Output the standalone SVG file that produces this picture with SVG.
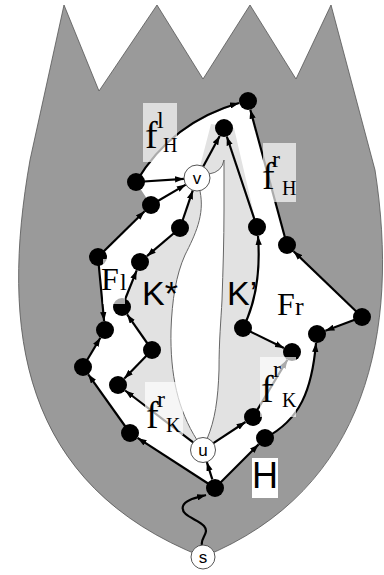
<svg xmlns="http://www.w3.org/2000/svg" width="384" height="575" viewBox="0 0 384 575">
<defs>
<marker id="ah" viewBox="0 0 10 7" markerUnits="userSpaceOnUse" markerWidth="9" markerHeight="6.5" refX="10" refY="3.5" orient="auto"><path d="M0,0 L10,3.5 L0,7 z" fill="#000"/></marker>
<style>
.e{fill:none;stroke:#000;stroke-width:2.2;marker-end:url(#ah)}
.n{fill:#000}
.w{fill:#fff;stroke:#555;stroke-width:1}
.lens{fill:none;stroke:#666;stroke-width:1}
.box{fill:#fff;fill-opacity:0.67}
.ser{font-family:"Liberation Serif","Times New Roman",serif;fill:#000}
.san{font-family:"Liberation Sans",Arial,sans-serif;fill:#000}
</style>
</defs>
<path id="outer" d="M64,5 L99,91 L157,5 L203,79 L250,5 L296,79 L331,5 L375,170 C400,330 368,490 203,557 C20,485 0,330 30,160 Z" fill="#9a9a9a" stroke="#555" stroke-width="0.8"/>
<path id="face" d="M136,182 Q172,122 248,101 L287,245 L362,317 L317,334 C312,390 300,420 265,438 L215,488 L130,433 L83,367 L105,330 L98,257 L151,205 Z" fill="#fff"/>
<path id="kregion" d="M197,178 L211,124 L234,128 L257,227 Q262,290 243,328 L292,352 L253,417 L203,450 L118,385 L152,350 L122,307 L140,262 L180,228 Z" fill="#e2e2e2"/>
<path id="lensfill" d="M200,191 C205,215 195,235 185,255 C176,275 172,300 171,330 C170,375 178,410 197,440 L207,439 C215,420 218,400 219,370 C219,340 221,320 222,300 C223,270 224,240 224,210 L224,160 Q222,172 209,174 Z" fill="#fff"/>
<g id="lenslines">
<path class="lens" d="M200,191 C205,215 195,235 185,255 C176,275 172,300 171,330 C170,375 178,410 197,440"/>
<path class="lens" d="M207,439 C215,420 218,400 219,370 C219,340 221,320 222,300 C223,270 224,240 224,210 L224,160 Q222,172 209,174"/>
</g>
<g id="connectors">
<path class="e" d="M136,182 Q172,122 239,103"/>
<path class="e" d="M136,182 L184,178.8"/>
<path class="e" d="M203.2,166.6 L219.7,135.9"/>
<path class="e" d="M151,205 L185.8,184.6"/>
<path class="e" d="M180,228 L192.8,190.3"/>
<path class="e" d="M180,228 L146.9,256.2"/>
<path class="e" d="M98,257 L144.6,211.3"/>
<path class="e" d="M98,257 L104.1,321"/>
<path class="e" d="M122,307 L136.7,270.4"/>
<path class="e" d="M152,350 L127.1,314.4"/>
<path class="e" d="M83,367 L100.4,337.7"/>
<path class="e" d="M152,350 L124.3,378.5"/>
<path class="e" d="M130,433 L88.2,374.3"/>
<path class="e" d="M215,488 L137.6,437.9"/>
<path class="e" d="M193.1,442.4 L125.1,390.5"/>
<path class="e" d="M212.3,479.4 L206.8,461.9"/>
<path class="e" d="M213.4,443.1 L245.5,422"/>
<path class="e" d="M215,488 L258.6,444.4"/>
<path class="e" d="M265,438 C300,420 312,390 316,343"/>
<path class="e" d="M362,317 L325.4,330.8"/>
<path class="e" d="M362,317 L293.5,251.2"/>
<path class="e" d="M287,245 L250.3,109.7"/>
<path class="e" d="M257,227 L226.8,136.5"/>
<path class="e" d="M243,328 Q262,290 258,236"/>
<path class="e" d="M243,328 L283.9,348"/>
<path class="e" d="M253,417 L287.4,359.7"/>
<path class="e" d="M202,545 C200,538 210,533 204,526 C198,519 180,516 183,506 C185,500 195,498 206,495"/>
</g>
<g id="nodes">
<circle id="A" class="n" cx="248" cy="101" r="9"/>
<circle id="B" class="n" cx="224" cy="128" r="9"/>
<circle id="C" class="n" cx="136" cy="182" r="9"/>
<circle id="D" class="n" cx="151" cy="205" r="9"/>
<circle id="E" class="n" cx="180" cy="228" r="9"/>
<circle id="F" class="n" cx="98" cy="257" r="9"/>
<circle id="G" class="n" cx="140" cy="262" r="9"/>
<circle id="H1" class="n" cx="122" cy="307" r="9"/>
<circle id="I" class="n" cx="105" cy="330" r="9"/>
<circle id="J" class="n" cx="152" cy="350" r="9"/>
<circle id="K" class="n" cx="83" cy="367" r="9"/>
<circle id="R" class="n" cx="118" cy="385" r="9"/>
<circle id="S" class="n" cx="130" cy="433" r="9"/>
<circle id="L" class="n" cx="257" cy="227" r="9"/>
<circle id="M" class="n" cx="287" cy="245" r="9"/>
<circle id="N" class="n" cx="362" cy="317" r="9"/>
<circle id="O" class="n" cx="243" cy="328" r="9"/>
<circle id="P" class="n" cx="317" cy="334" r="9"/>
<circle id="Q" class="n" cx="292" cy="352" r="9"/>
<circle id="T" class="n" cx="253" cy="417" r="9"/>
<circle id="U" class="n" cx="265" cy="438" r="9"/>
<circle id="W" class="n" cx="215" cy="488" r="9"/>
<g id="v"><circle class="w" cx="197" cy="178" r="13"/><text class="san" x="197" y="184" font-size="17" text-anchor="middle">v</text></g>
<g id="u"><circle class="w" cx="203" cy="450" r="12.5"/><text class="san" x="203" y="456" font-size="17" text-anchor="middle">u</text></g>
<g id="s"><circle class="w" cx="203" cy="557" r="12"/><text class="san" x="203" y="563" font-size="17" text-anchor="middle">s</text></g>
</g>
<g id="labels">
<rect class="box" x="143" y="103" width="34" height="59"/>
<rect class="box" x="263" y="143" width="33" height="59"/>
<rect class="box" x="145" y="382" width="38" height="53"/>
<rect class="box" x="260" y="357" width="36" height="60"/>
<rect class="box" x="103" y="259" width="22" height="45"/>
<rect x="252" y="458" width="26" height="40" fill="#fff"/>
<text class="ser" x="145" y="148" font-size="38">f</text>
<text class="ser" x="157" y="128" font-size="24">l</text>
<text class="ser" x="163" y="152" font-size="20">H</text>
<text class="ser" x="262" y="189" font-size="38">f</text>
<text class="ser" x="272" y="167" font-size="24">r</text>
<text class="ser" x="282" y="195" font-size="20">H</text>
<text class="ser" x="146" y="428" font-size="38">f</text>
<text class="ser" x="157" y="407" font-size="24">r</text>
<text class="ser" x="166" y="432" font-size="20">K</text>
<text class="ser" x="261" y="402" font-size="38">f</text>
<text class="ser" x="273" y="377" font-size="24">r</text>
<text class="ser" x="282" y="407" font-size="20">K</text>
<text class="ser" x="101" y="290" font-size="32">F</text>
<text class="ser" x="120" y="290" font-size="24">l</text>
<text class="ser" x="277" y="315" font-size="32">F</text>
<text class="ser" x="295" y="315" font-size="26">r</text>
<text class="san" x="142" y="305" font-size="34">K*</text>
<text class="san" x="227" y="305" font-size="34">K’</text>
<text class="san" x="252" y="488" font-size="36">H</text>
</g>
</svg>
